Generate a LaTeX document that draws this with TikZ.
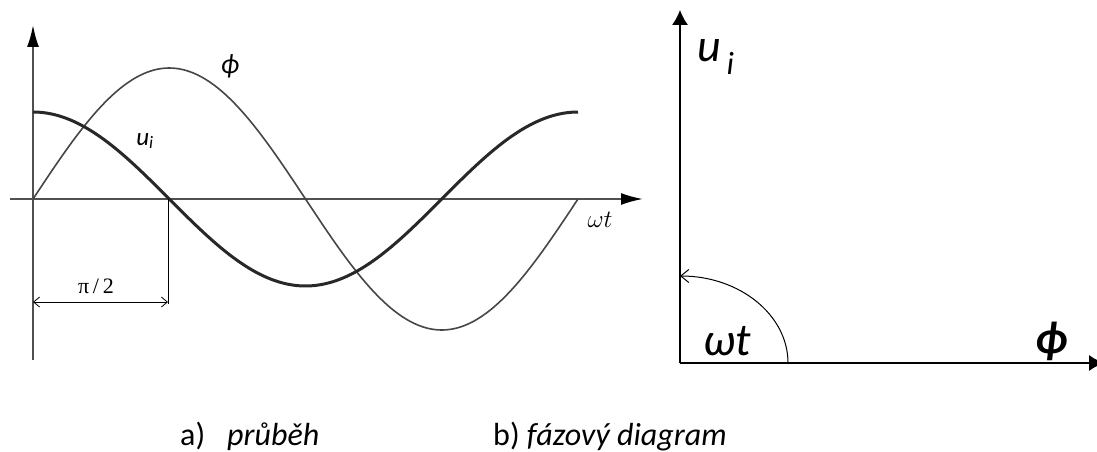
\documentclass[tikz,border=0pt]{standalone}
\usepackage{fontspec}
\usepackage{tikz}
\usetikzlibrary{arrows.meta,positioning,calc}
\setmainfont{Carlito}
\newfontfamily\tmsfont{Liberation Serif}
\definecolor{axisgray}{RGB}{80,80,80}
\definecolor{curvedark}{RGB}{40,40,40}
\definecolor{curvelight}{RGB}{70,70,70}

\begin{document}
\begin{tikzpicture}[x=1pt,y=-1pt,
  axisL/.style={axisgray,line width=2pt,-{Latex[length=22pt,width=12pt,color=black]}},
  axisR/.style={black,line width=1.2pt,-{Latex[length=15pt,width=16pt]}},
  uicurve/.style={curvedark,line width=3pt},
  phicurve/.style={curvelight,line width=1.6pt},
  dimline/.style={black,line width=0.8pt},
  dimarrow/.style={black,line width=0.8pt,{Straight Barb[length=6pt,width=10pt]}-{Straight Barb[length=6pt,width=10pt]}},
  lbl/.style={inner sep=0pt},
  every node/.style={inner sep=0pt}]
\useasboundingbox (0,0) rectangle (1097,452);
% a) waveform
\coordinate (yb) at (33,360);
\coordinate (yt) at (33,25);
\coordinate (xl) at (10,199);
\coordinate (xr) at (643,199);
\coordinate (zero) at (33,199);
\coordinate (quart) at (168,199);
\coordinate (quartb) at (168,304);
\coordinate (d1) at (33,302);
\coordinate (d2) at (168,302);
\draw[axisL] (yb) -- (yt);
\draw[axisL] (xl) -- (xr);
\draw[phicurve] plot[domain=33:578,samples=150,smooth] (\x,{199-131*sin((\x-33)/545*360)});
\draw[uicurve] plot[domain=33:578,samples=150,smooth] (\x,{199-87*cos((\x-33)/545*360)});
\draw[dimline] (quart) -- (quartb);
\draw[dimarrow] (d1) -- (d2);
\node[lbl] (halfpi) at (96,286) {\fontsize{22}{24}\selectfont\tmsfont π\,/\,2};
\node[lbl] (uiL) at (145,141) {\fontsize{25}{27}\selectfont\itshape u\textsubscript{i}};
\node[lbl] (phiL) at (230,66) {\fontsize{28}{30}\selectfont\itshape ϕ};
\node[lbl] (wtL) at (600,220) {\fontsize{24}{26}\selectfont$\omega t$};
% b) phasor diagram
\coordinate (o) at (680,363);
\coordinate (ut) at (680,10);
\coordinate (fr) at (1104,363);
\coordinate (arcstart) at (788,363);
\draw[axisR] (o) -- (ut);
\draw[axisR] (o) -- (fr);
\draw[black,line width=1pt,-{Straight Barb[length=8pt,width=13pt]}] (arcstart) arc[start angle=0,end angle=-90,x radius=108,y radius=87];
\node[lbl] (uiR) at (716,57) {\fontsize{46}{50}\selectfont\itshape u\textsubscript{\,i}};
\node[lbl] (wtR) at (727,341) {\fontsize{46}{50}\selectfont\itshape ωt};
\node[lbl] (phiR) at (1052,341) {\fontsize{46}{50}\selectfont\bfseries\itshape ϕ};
% captions
\node[lbl,anchor=base west] (capa) at (180,445) {\fontsize{32}{36}\selectfont a)\hspace{22pt}\textit{průběh}};
\node[lbl,anchor=base west] (capb) at (493,445) {\fontsize{32}{36}\selectfont b) \textit{fázový diagram}};
\end{tikzpicture}
\end{document}
